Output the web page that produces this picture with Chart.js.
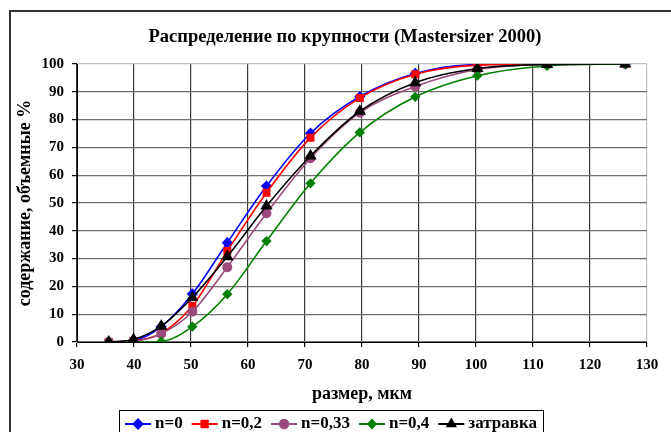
<!DOCTYPE html>
<html>
<head>
<meta charset="utf-8">
<script src="https://cdn.jsdelivr.net/npm/chart.js@4/dist/chart.umd.min.js"></script>
<style>
  html, body { margin: 0; padding: 0; background: #fff; }
  #wrap { width: 671px; height: 432px; position: relative; }
</style>
</head>
<body>
<div id="wrap"><canvas id="c" width="671" height="432"></canvas></div>
<script>
// Particle size classes, µm
const sizes = [35.566, 39.905, 44.774, 50.238, 56.368, 63.246, 70.963, 79.621, 89.337, 100.237, 112.468, 126.191];

// Cumulative volume content, %
const n0    = [0, 0.5, 5.5, 17.3, 35.7, 56.1, 75.1, 88.3, 96.6, 99.8, 100, 100];
const n02   = [0, 0.4, 3.1, 13.0, 32.7, 53.7, 73.5, 87.8, 96.3, 99.6, 100, 100];
const n033  = [0, 0.3, 3.0, 10.9, 26.9, 46.3, 66.1, 82.5, 91.9, 98.0, 99.8, 100];
const n04   = [0, 0.0, 0.2, 5.5, 17.2, 36.3, 57.1, 75.4, 88.2, 95.8, 99.3, 100];
const seed  = [0, 0.9, 5.7, 16.0, 30.7, 48.9, 66.9, 83.0, 93.3, 98.4, 99.8, 100];

const seriesNames = ['n=0', 'n=0,2', 'n=0,33', 'n=0,4', 'затравка'];
const xTicks = [30, 40, 50, 60, 70, 80, 90, 100, 110, 120, 130];
const yTicks = [0, 10, 20, 30, 40, 50, 60, 70, 80, 90, 100];

const chartTitle = 'Распределение по крупности (Mastersizer 2000)';
const xTitle = 'размер, мкм';
const yTitle = 'содержание, объемные %';

const FONT = '"Liberation Serif", "Times New Roman", serif';

function pts(vals) { return sizes.map((x, i) => ({ x, y: vals[i] })); }

const styles = [
  { color: '#0000FF', pointStyle: 'rectRot', radius: 4.5 },
  { color: '#FF0000', pointStyle: 'rect', radius: 4.5 },
  { color: '#9C4A7C', pointStyle: 'circle', radius: 4.2 },
  { color: '#008000', pointStyle: 'rectRot', radius: 4 },
  { color: '#000000', pointStyle: 'triangle', radius: 5.5 }
];
const values = [n0, n02, n033, n04, seed];

// later series are painted over earlier ones
const datasets = values.map((v, i) => ({
  label: seriesNames[i],
  data: pts(v),
  order: values.length - i,
  borderColor: styles[i].color,
  backgroundColor: styles[i].color,
  pointBackgroundColor: styles[i].color,
  pointBorderColor: styles[i].color,
  pointStyle: styles[i].pointStyle,
  pointRadius: styles[i].radius,
  pointHoverRadius: styles[i].radius,
  borderWidth: 1.6,
  cubicInterpolationMode: 'monotone',
  fill: false
}));

// Frame, titles and the line-and-marker legend
const decor = {
  id: 'decor',
  afterDraw(chart) {
    const ctx = chart.ctx;
    const area = chart.chartArea;
    ctx.save();
    // outer frame (left and top edges inside the canvas)
    ctx.strokeStyle = '#333';
    ctx.lineWidth = 2;
    ctx.beginPath();
    ctx.moveTo(10, 440);
    ctx.lineTo(10, 11);
    ctx.lineTo(680, 11);
    ctx.stroke();

    ctx.fillStyle = '#000';
    ctx.textAlign = 'center';
    ctx.textBaseline = 'middle';
    ctx.font = 'bold 18.5px ' + FONT;
    ctx.fillText(chartTitle, 345, 37);

    ctx.font = 'bold 18px ' + FONT;
    ctx.fillText(xTitle, (area.left + area.right) / 2, 394);

    ctx.save();
    ctx.translate(25, (area.top + area.bottom) / 2);
    ctx.rotate(-Math.PI / 2);
    ctx.fillText(yTitle, 0, 0);
    ctx.restore();

    // legend
    ctx.font = 'bold 17px ' + FONT;
    const lineLen = 26, gapA = 4, gapB = 9, padX = 6;
    const items = chart.data.datasets.map(d => ({ d, w: ctx.measureText(d.label).width }));
    let total = padX * 2;
    items.forEach((it, i) => { total += lineLen + gapA + it.w + (i < items.length - 1 ? gapB : 0); });
    const boxL = 331 - total / 2, boxT = 410, boxH = 30;
    ctx.fillStyle = '#fff';
    ctx.fillRect(boxL, boxT, total, boxH);
    ctx.strokeStyle = '#000';
    ctx.lineWidth = 1;
    ctx.strokeRect(Math.round(boxL) + 0.5, boxT + 0.5, Math.round(total), boxH);
    let x = boxL + padX;
    const cy = 424;
    items.forEach((it, i) => {
      const d = it.d;
      ctx.strokeStyle = d.borderColor;
      ctx.lineWidth = 2;
      ctx.beginPath();
      ctx.moveTo(x, cy);
      ctx.lineTo(x + lineLen, cy);
      ctx.stroke();
      ctx.fillStyle = d.borderColor;
      Chart.helpers.drawPoint(ctx, {
        pointStyle: d.pointStyle, radius: Math.min(d.pointRadius, 4.5), rotation: 0, borderWidth: 1
      }, x + lineLen / 2, cy);
      x += lineLen + gapA;
      ctx.fillStyle = '#000';
      ctx.textAlign = 'left';
      ctx.fillText(d.label, x, cy);
      x += it.w + gapB;
    });
    ctx.restore();
  }
};

const gridColorX = c => (c.tick && c.tick.value === 130) ? '#c0c0c0' : '#3a3a3a';
const gridColorY = c => (c.tick && c.tick.value === 100) ? '#c0c0c0' : '#6e6e6e';

new Chart(document.getElementById('c'), {
  type: 'line',
  data: { datasets },
  plugins: [decor],
  options: {
    responsive: false,
    animation: false,
    events: [],
    layout: { padding: { top: 64, right: 24, left: 0, bottom: 0 } },
    plugins: { legend: { display: false }, title: { display: false }, tooltip: { enabled: false } },
    scales: {
      x: {
        type: 'linear',
        min: 30, max: 130,
        afterFit(s) { s.height = 90; },
        afterBuildTicks(s) { s.ticks = xTicks.map(v => ({ value: v })); },
        border: { color: '#000', width: 1 },
        grid: { color: gridColorX, lineWidth: 1.2, tickLength: 5, tickColor: '#000', drawOnChartArea: true },
        ticks: { color: '#000', padding: 9, maxRotation: 0, font: { family: FONT, size: 15, weight: 'bold' } }
      },
      y: {
        type: 'linear',
        min: 0, max: 100,
        afterFit(s) { s.width = 77; },
        afterBuildTicks(s) { s.ticks = yTicks.map(v => ({ value: v })); },
        border: { color: '#000', width: 1 },
        grid: { color: gridColorY, lineWidth: 1.2, tickLength: 5, tickColor: '#000' },
        ticks: { color: '#000', padding: 8, font: { family: FONT, size: 15, weight: 'bold' } }
      }
    }
  }
});
</script>
</body>
</html>
